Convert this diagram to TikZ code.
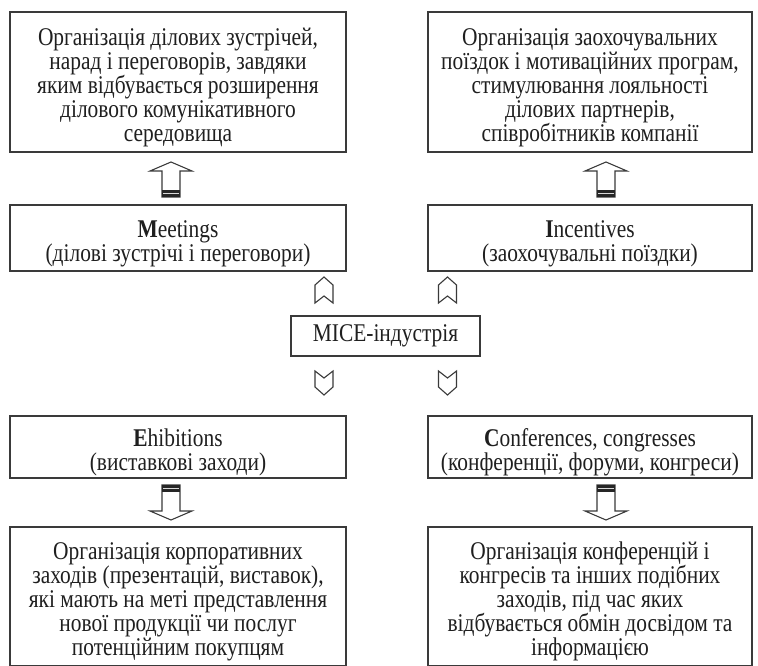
\documentclass[tikz,border=0pt]{standalone}
\usepackage{fontspec}
\setmainfont[FakeStretch=0.84]{Liberation Serif}
\definecolor{edge}{HTML}{3A3A3A}
\newcommand\myup{\rule{0pt}{28pt}}
\tikzset{
  box/.style={draw=edge, line width=1.2pt, rectangle, align=center, inner sep=0pt,
    font=\fontsize{25.5pt}{24pt}\selectfont, text=black!88},
  pics/uparrow/.style={code={
    \draw[edge, line width=1.1pt, fill=white, line join=miter]
      (0,0) -- (21,9) -- (9,9) -- (9,35) -- (-9,35) -- (-9,9) -- (-21,9) -- cycle;
    \fill[black!85] (-9,28) rectangle (9,35);
    \draw[white!70!gray, line width=1pt] (-8,31.3) -- (8,31.3);
  }},
  pics/downarrow/.style={code={
    \draw[edge, line width=1.1pt, fill=white, line join=miter]
      (0,0) -- (21,-9) -- (9,-9) -- (9,-35) -- (-9,-35) -- (-9,-9) -- (-21,-9) -- cycle;
    \fill[black!85] (-9,-28) rectangle (9,-35);
    \draw[white!70!gray, line width=1pt] (-8,-31.3) -- (8,-31.3);
  }},
  pics/upchev/.style={code={
    \draw[edge, line width=1.1pt, line join=miter]
      (0,0) -- (9,8) -- (9,26) -- (0,19) -- (-9,26) -- (-9,8) -- cycle;
  }},
  pics/downchev/.style={code={
    \draw[edge, line width=1.1pt, line join=miter]
      (0,24) -- (9,16) -- (9,0) -- (0,7) -- (-9,0) -- (-9,16) -- cycle;
  }},
}
\begin{document}
\begin{tikzpicture}[x=1pt,y=-1pt]
\useasboundingbox[fill=white] (0,0) rectangle (758,666);

% top description boxes
\node[box, minimum width=336pt, minimum height=140pt] (tl) at (178,82)
  {\myup Організація ділових зустрічей,\\нарад і переговорів, завдяки\\яким відбувається розширення\\ділового комунікативного\\середовища};
\node[box, minimum width=324pt, minimum height=140pt] (tr) at (590,82)
  {\myup Організація заохочувальних\\поїздок і мотиваційних програм,\\стимулювання лояльності\\ділових партнерів,\\співробітників компанії};

% category boxes
\node[box, minimum width=336pt, minimum height=66pt] (meet) at (178,238)
  {\myup\textbf{M}eetings\\(ділові зустрічі і переговори)};
\node[box, minimum width=324pt, minimum height=66pt] (inc) at (590,238)
  {\myup\textbf{I}ncentives\\(заохочувальні поїздки)};

% centre
\node[box, minimum width=189pt, minimum height=40pt] (mice) at (385.5,336)
  {MICE-індустрія};

\node[box, minimum width=336pt, minimum height=62pt] (exh) at (178,447)
  {\myup\textbf{E}hibitions\\(виставкові заходи)};
\node[box, minimum width=324pt, minimum height=62pt] (conf) at (590,447)
  {\myup\textbf{C}onferences, congresses\\(конференції, форуми, конгреси)};

% bottom description boxes
\node[box, minimum width=336pt, minimum height=139pt] (bl) at (178,596.5)
  {\myup Організація корпоративних\\заходів (презентацій, виставок),\\які мають на меті представлення\\нової продукції чи послуг\\потенційним покупцям};
\node[box, minimum width=324pt, minimum height=139pt] (br) at (590,596.5)
  {\myup Організація конференцій і\\конгресів та інших подібних\\заходів, під час яких\\відбувається обмін досвідом та\\інформацією};

% block arrows
\pic at (171,162) {uparrow};
\pic at (606,162) {uparrow};
\pic at (171,520) {downarrow};
\pic at (606,520) {downarrow};

% chevrons
\pic at (324,277) {upchev};
\pic at (447.5,277) {upchev};
\pic at (324,371) {downchev};
\pic at (447.5,371) {downchev};
\end{tikzpicture}
\end{document}
